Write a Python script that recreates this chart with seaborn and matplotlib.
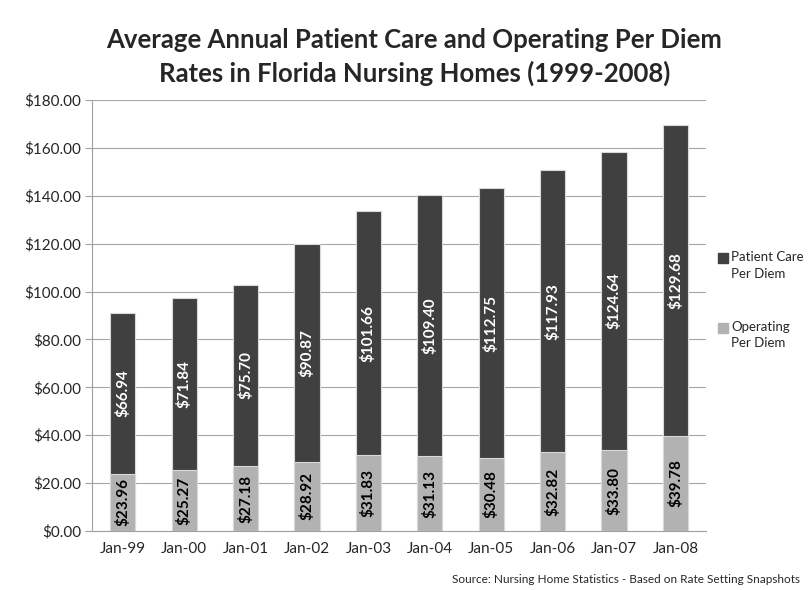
import numpy as np
import pandas as pd
import matplotlib
matplotlib.use('Agg')
import matplotlib.pyplot as plt
import seaborn as sns

# Data
years = ['Jan-99', 'Jan-00', 'Jan-01', 'Jan-02', 'Jan-03', 'Jan-04', 'Jan-05', 'Jan-06', 'Jan-07', 'Jan-08']
operating = [23.96, 25.27, 27.18, 28.92, 31.83, 31.13, 30.48, 32.82, 33.80, 39.78]
patient_care = [66.94, 71.84, 75.70, 90.87, 101.66, 109.40, 112.75, 117.93, 124.64, 129.68]

dark = '#404040'
light = '#b2b2b2'

sns.set_style('white')
plt.rcParams['font.family'] = ['Lato', 'DejaVu Sans']

df = pd.DataFrame({'year': years, 'operating': operating, 'patient_care': patient_care})
df['total'] = df['operating'] + df['patient_care']

fig = plt.figure(figsize=(8.08, 5.9), dpi=100)
ax = fig.add_axes([0.114, 0.1, 0.76, 0.7305])

# stacked: draw total first (dark), then operating on top (light)
sns.barplot(data=df, x='year', y='total', color=dark, width=0.41, ax=ax,
            edgecolor='#d9d9d9', linewidth=0.8, saturation=1, zorder=3)
sns.barplot(data=df, x='year', y='operating', color=light, width=0.41, ax=ax,
            edgecolor='#d9d9d9', linewidth=0.8, saturation=1, zorder=4)

for i, (op, pc) in enumerate(zip(operating, patient_care)):
    ax.text(i, op / 2, f'${op:.2f}', rotation=90, ha='center', va='center',
            color='black', fontsize=11, fontweight='bold', zorder=5)
    ax.text(i, op + pc / 2, f'${pc:.2f}', rotation=90, ha='center', va='center',
            color='white', fontsize=11, fontweight='bold', zorder=5)

ax.set_ylim(0, 180)
ax.set_xlim(-0.5, 9.5)
ax.set_yticks(np.arange(0, 181, 20))
ax.set_yticklabels([f'${v:.2f}' for v in np.arange(0, 181, 20)], fontsize=11)
ax.tick_params(axis='x', labelsize=11, length=0, pad=8)
ax.tick_params(axis='y', length=5, color='#a0a0a0', left=True, pad=3)
ax.yaxis.grid(True, color='#a6a6a6', linewidth=0.8, zorder=0)
ax.set_axisbelow(True)
ax.set_xlabel('')
ax.set_ylabel('')
for s in ['top', 'right']:
    ax.spines[s].set_visible(False)
for s in ['left', 'bottom']:
    ax.spines[s].set_color('#a0a0a0')
    ax.spines[s].set_linewidth(0.8)

fig.text(0.513, 0.903, 'Average Annual Patient Care and Operating Per Diem\nRates in Florida Nursing Homes (1999-2008)',
         ha='center', va='center', fontsize=18.5, fontweight='bold', linespacing=1.4)

# legend
fig.patches.append(plt.Rectangle((0.888, 0.554), 0.0125, 0.017, transform=fig.transFigure, color=dark))
fig.text(0.905, 0.574, 'Patient Care\nPer Diem', fontsize=9.5, va='top', ha='left', linespacing=1.45,
         transform=fig.transFigure)
fig.patches.append(plt.Rectangle((0.888, 0.436), 0.0125, 0.017, transform=fig.transFigure, color=light))
fig.text(0.905, 0.456, 'Operating\nPer Diem', fontsize=9.5, va='top', ha='left', linespacing=1.45,
         transform=fig.transFigure)

fig.text(0.559, 0.018, 'Source: Nursing Home Statistics - Based on Rate Setting Snapshots',
         fontsize=8.5, ha='left', va='center')

fig.savefig('out.png', dpi=100)
